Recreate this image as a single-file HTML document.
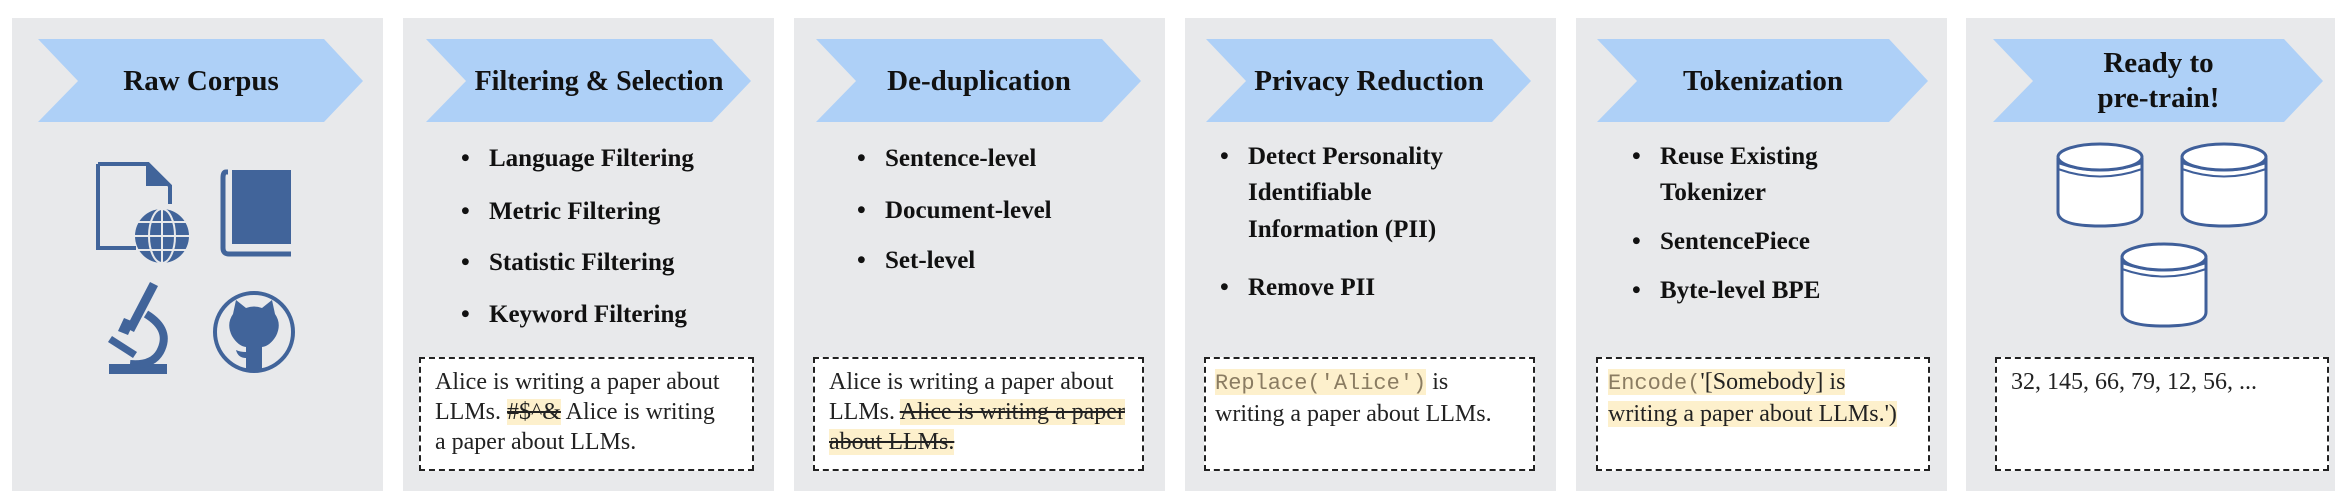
<!DOCTYPE html>
<html><head><meta charset="utf-8"><style>
*{margin:0;padding:0;box-sizing:border-box}
body{width:2346px;height:496px;background:#fff;position:relative;overflow:hidden;font-family:"Liberation Serif",serif;color:#111}
.panel{position:absolute;top:18px;width:371px;height:473px;background:#e8e9eb}
.ct{position:absolute;top:39px;height:84px;display:flex;align-items:center;justify-content:center;text-align:center;font-weight:bold;font-size:29px;line-height:35px;white-space:nowrap}
.bl{position:absolute;font-weight:bold;font-size:25px;line-height:36px;white-space:nowrap}
.bl .d{position:absolute;left:-28px}
.box{position:absolute;top:357px;height:114px;border:2.5px dashed #222;background:#fff;font-size:24px;line-height:30px;padding:8px 0 0 14px;color:#222;white-space:nowrap}
.hl{background:#fdf0cc}
.mono{font-family:"Liberation Mono",monospace;color:#8a7c62;font-size:22px}
s{text-decoration-thickness:2px}
</style></head><body>

<div class="panel" style="left:12px"></div>
<div class="panel" style="left:403px"></div>
<div class="panel" style="left:794px"></div>
<div class="panel" style="left:1185px"></div>
<div class="panel" style="left:1576px"></div>
<div class="panel" style="left:1966px;width:369px"></div>

<svg width="2346" height="496" style="position:absolute;left:0;top:0">
<g fill="#aed0f7">
<polygon points="38,39 324,39 363,81 324,122 38,122 78,81"/>
<polygon points="426,39 712,39 751,81 712,122 426,122 466,81"/>
<polygon points="816,39 1102,39 1141,81 1102,122 816,122 856,81"/>
<polygon points="1206,39 1492,39 1531,81 1492,122 1206,122 1246,81"/>
<polygon points="1597,39 1889,39 1928,81 1889,122 1597,122 1637,81"/>
<polygon points="1993,39 2284,39 2323,81 2284,122 1993,122 2033,81"/>
</g>
<g fill="#41649a" stroke="#41649a">
<path d="M98,164 L148,164 L170,186 L170,204" fill="none" stroke-width="4"/>
<path d="M98,164 L98,248 L136,248" fill="none" stroke-width="4"/>
<path d="M146,164 L146,186 L170,186 Z" stroke="none"/>
<circle cx="162" cy="236" r="27" stroke="none"/>
<g stroke="#e8e9eb" stroke-width="2" fill="none">
<line x1="162" y1="209" x2="162" y2="263"/><line x1="135" y1="236" x2="189" y2="236"/>
<line x1="138" y1="222" x2="186" y2="222"/><line x1="138" y1="250" x2="186" y2="250"/>
<ellipse cx="162" cy="236" rx="13" ry="27"/>
</g>
<path d="M232,170 L291,170 L291,244 L232,244 Z" stroke="none"/>
<path d="M228,172 L226,172 Q223,172 223,178 L223,248 Q223,254 229,254 L291,254" fill="none" stroke-width="5"/>
<g stroke="none">
<polygon points="150,282 158,286 134,332 126,328"/>
<polygon points="124,318 134,322 128,335 118,331"/>
<polygon points="108,342 112,336 137,352 133,358"/>
<rect x="109" y="364" width="58" height="10"/>
</g>
<path d="M146,314 Q172,330 160,352 Q152,366 130,364" fill="none" stroke-width="8"/>
<circle cx="254" cy="332" r="39" fill="none" stroke-width="4"/>
<path d="M233,314 L236,300 L246,308 Q254,305 262,308 L272,300 L275,314 Q282,324 276,336 Q270,346 262,347 L262,371 L246,371 L246,358 Q238,358 236,350 Q240,352 246,352 L246,347 Q238,346 232,336 Q226,324 233,314 Z" stroke="none"/>
</g>
<g fill="#fff" stroke="#3f5f9a" stroke-width="3">
<g><path d="M2058,158 L2058,212 Q2058,226 2100,226 Q2142,226 2142,212 L2142,158"/><ellipse cx="2100" cy="157" rx="42" ry="13"/><path d="M2058,163 Q2100,178 2142,163 M2058,169 Q2100,184 2142,169" fill="none" stroke-width="2"/></g>
<g transform="translate(124,0)"><path d="M2058,158 L2058,212 Q2058,226 2100,226 Q2142,226 2142,212 L2142,158"/><ellipse cx="2100" cy="157" rx="42" ry="13"/><path d="M2058,163 Q2100,178 2142,163 M2058,169 Q2100,184 2142,169" fill="none" stroke-width="2"/></g>
<g transform="translate(64,100)"><path d="M2058,158 L2058,212 Q2058,226 2100,226 Q2142,226 2142,212 L2142,158"/><ellipse cx="2100" cy="157" rx="42" ry="13"/><path d="M2058,163 Q2100,178 2142,163 M2058,169 Q2100,184 2142,169" fill="none" stroke-width="2"/></g>
</g>
</svg>

<div class="ct" style="left:78px;width:246px">Raw Corpus</div>
<div class="ct" style="left:466px;width:266px;font-size:28px">Filtering &amp; Selection</div>
<div class="ct" style="left:856px;width:246px">De-duplication</div>
<div class="ct" style="left:1246px;width:246px">Privacy Reduction</div>
<div class="ct" style="left:1637px;width:252px">Tokenization</div>
<div class="ct" style="left:2033px;width:251px">Ready to<br>pre-train!</div>

<div class="bl" style="left:489px;top:141px"><span class="d">•</span>Language Filtering</div>
<div class="bl" style="left:489px;top:194px"><span class="d">•</span>Metric Filtering</div>
<div class="bl" style="left:489px;top:245px"><span class="d">•</span>Statistic Filtering</div>
<div class="bl" style="left:489px;top:297px"><span class="d">•</span>Keyword Filtering</div>

<div class="bl" style="left:885px;top:141px"><span class="d">•</span>Sentence-level</div>
<div class="bl" style="left:885px;top:193px"><span class="d">•</span>Document-level</div>
<div class="bl" style="left:885px;top:243px"><span class="d">•</span>Set-level</div>

<div class="bl" style="left:1248px;top:139px"><span class="d">•</span>Detect Personality</div>
<div class="bl" style="left:1248px;top:175px">Identifiable</div>
<div class="bl" style="left:1248px;top:212px">Information (PII)</div>
<div class="bl" style="left:1248px;top:270px"><span class="d">•</span>Remove PII</div>

<div class="bl" style="left:1660px;top:139px"><span class="d">•</span>Reuse Existing</div>
<div class="bl" style="left:1660px;top:175px">Tokenizer</div>
<div class="bl" style="left:1660px;top:224px"><span class="d">•</span>SentencePiece</div>
<div class="bl" style="left:1660px;top:273px"><span class="d">•</span>Byte-level BPE</div>

<div class="box" style="left:419px;width:335px">Alice is writing a paper about<br>LLMs. <span class="hl"><s>#$^&amp;</s></span> Alice is writing<br>a paper about LLMs.</div>
<div class="box" style="left:813px;width:331px">Alice is writing a paper about<br>LLMs. <span class="hl"><s>Alice is writing a paper</s></span><br><span class="hl"><s>about LLMs.</s></span></div>
<div class="box" style="left:1204px;width:331px;padding-left:9px"><span class="hl"><span class="mono">Replace('Alice')</span></span> is<br>writing a paper about LLMs.</div>
<div class="box" style="left:1596px;width:334px;padding-left:10px"><span class="hl"><span class="mono">Encode(</span>'[Somebody] is</span><br><span class="hl">writing a paper about LLMs.')</span></div>
<div class="box" style="left:1995px;width:334px">32, 145, 66, 79, 12, 56, ...</div>

</body></html>
